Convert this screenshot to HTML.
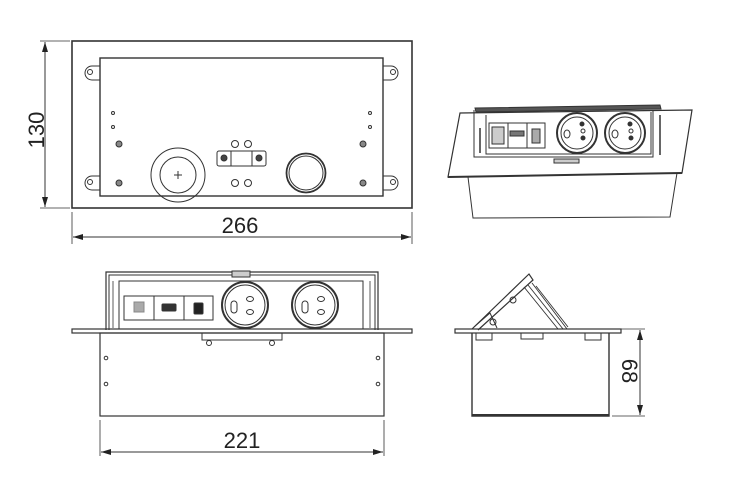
<!DOCTYPE html>
<html><head><meta charset="utf-8"><style>
html,body{margin:0;padding:0;background:#fff;width:735px;height:480px;overflow:hidden}
svg{display:block}
text{font-family:"Liberation Sans",sans-serif;fill:#222;stroke:none}
</style></head><body>
<svg width="735" height="480" viewBox="0 0 735 480" xmlns="http://www.w3.org/2000/svg" fill="none" stroke="#333" stroke-width="1">
<defs>
<marker id="ar" markerWidth="10" markerHeight="6" refX="10" refY="3" orient="auto-start-reverse" markerUnits="userSpaceOnUse"><path d="M0,0 L10,3 L0,6 z" fill="#222" stroke="none"/></marker>
</defs>
<!-- TOP VIEW -->
<rect x="72" y="41" width="340" height="167" stroke-width="1.6"/>
<rect x="100" y="58" width="283" height="138" stroke-width="1.4"/>
<g stroke-width="1">
<path d="M100,66 H92 a7,7 0 0 0 0,14 H100"/><circle cx="90" cy="72" r="2.5"/>
<path d="M100,176 H92 a7,7 0 0 0 0,14 H100"/><circle cx="90" cy="182" r="2.5"/>
<path d="M383,66 H391 a7,7 0 0 1 0,14 H383"/><circle cx="393" cy="72" r="2.5"/>
<path d="M383,176 H391 a7,7 0 0 1 0,14 H383"/><circle cx="393" cy="182" r="2.5"/>
<circle cx="113" cy="113" r="1.5"/><circle cx="113" cy="127" r="1.5"/>
<circle cx="370" cy="113" r="1.5"/><circle cx="370" cy="127" r="1.5"/>
<circle cx="119" cy="144" r="3" fill="#888"/><circle cx="119" cy="183" r="3" fill="#888"/>
<circle cx="363" cy="144" r="3" fill="#888"/><circle cx="363" cy="183" r="3" fill="#888"/>
<circle cx="178" cy="175" r="27"/><circle cx="178" cy="175" r="18"/>
<path d="M174,175 h8 M178,171 v8"/>
<rect x="217" y="151" width="49" height="15" rx="2"/><path d="M231,151 v15 M252,151 v15"/>
<circle cx="224" cy="158" r="3" fill="#444"/><circle cx="259" cy="158" r="3" fill="#444"/>
<circle cx="235" cy="144" r="3.5"/><circle cx="248" cy="144" r="3.5"/>
<circle cx="235" cy="183" r="3.5"/><circle cx="248" cy="183" r="3.5"/>
<circle cx="306" cy="173" r="19.5" stroke-width="1.8"/><circle cx="306" cy="173" r="17"/>
</g>
<!-- dims top -->
<path d="M40,41 H70 M40,208 H70 M72,212 V244 M412,212 V244" stroke-width="0.8"/>
<line x1="45" y1="42" x2="45" y2="207" marker-start="url(#ar)" marker-end="url(#ar)"/>
<line x1="73" y1="237" x2="411" y2="237" marker-start="url(#ar)" marker-end="url(#ar)"/>
<text x="240" y="233" font-size="22" text-anchor="middle">266</text>
<text transform="translate(44,130) rotate(-90)" font-size="22" text-anchor="middle">130</text>

<!-- FRONT VIEW -->
<path d="M106,330 V272 H378 V330" stroke-width="1.2"/>
<path d="M109,330 V275 H375 V330"/>
<rect x="119" y="281" width="244" height="48"/>
<rect x="232" y="271" width="18" height="6" fill="#ccc"/>
<path d="M113,281 V328 M370,281 V328" stroke-width="0.8"/>
<rect x="124" y="296" width="89" height="24"/><path d="M154,296 v24 M184,296 v24"/>
<rect x="134" y="302" width="10" height="10" fill="#aaa" stroke="#888"/>
<rect x="162" y="304" width="14" height="7" rx="1" fill="#333"/>
<rect x="194" y="303" width="9" height="11" rx="1" fill="#222"/>
<g>
<circle cx="245" cy="305" r="23" stroke-width="2"/><circle cx="245" cy="305" r="20"/>
<rect x="231" y="301" width="6" height="12" rx="3"/><ellipse cx="250" cy="299" rx="3.5" ry="2.5"/><ellipse cx="250" cy="312" rx="3.5" ry="2.5"/>
<circle cx="315" cy="305" r="23" stroke-width="2"/><circle cx="315" cy="305" r="20"/>
<rect x="302" y="301" width="6" height="12" rx="3"/><ellipse cx="321" cy="299" rx="3.5" ry="2.5"/><ellipse cx="321" cy="312" rx="3.5" ry="2.5"/>
</g>
<rect x="72" y="329" width="340" height="4" stroke-width="1.2"/>
<rect x="100" y="333" width="284" height="83" stroke-width="1.2"/>
<rect x="202" y="333" width="80" height="7"/>
<circle cx="209" cy="343" r="2.5"/><circle cx="272" cy="343" r="2.5"/>
<circle cx="106" cy="358" r="1.8"/><circle cx="106" cy="384" r="1.8"/>
<circle cx="378" cy="358" r="1.8"/><circle cx="378" cy="384" r="1.8"/>
<path d="M100,420 V456 M384,420 V456" stroke-width="0.8"/>
<line x1="101" y1="452" x2="383" y2="452" marker-start="url(#ar)" marker-end="url(#ar)"/>
<text x="242" y="448" font-size="22" text-anchor="middle">221</text>

<!-- ISO VIEW -->
<path d="M460,113 L692,110 L682,173 L448,177 Z" stroke-width="1.2"/>
<path d="M448,177 L682,173" stroke-width="2"/>
<path d="M468,177 L473,218 L670,217 L677,173" />
<path d="M475,108 L660,105 L661,109 L476,112 Z" fill="#555"/>
<path d="M474,110 V157 H653 V110"/>
<path d="M486,115 V154 H651 V112"/>
<rect x="489" y="123" width="56" height="25"/><path d="M508,123 v25 M527,123 v25"/>
<rect x="492" y="127" width="12" height="17" fill="#ccc"/>
<rect x="510" y="131" width="14" height="5" fill="#777"/>
<rect x="532" y="129" width="8" height="14" fill="#aaa"/>
<circle cx="577" cy="133" r="20" stroke-width="2"/><circle cx="577" cy="133" r="16"/>
<circle cx="582" cy="124" r="2" fill="#333"/><circle cx="583" cy="131" r="2"/><circle cx="583" cy="138" r="2" fill="#333"/>
<ellipse cx="567" cy="134" rx="3" ry="4"/>
<circle cx="625" cy="133" r="20" stroke-width="2"/><circle cx="625" cy="133" r="16"/>
<circle cx="630" cy="124" r="2" fill="#333"/><circle cx="631" cy="131" r="2"/><circle cx="631" cy="138" r="2" fill="#333"/>
<ellipse cx="615" cy="134" rx="3" ry="4"/>
<rect x="554" y="159" width="25" height="4" fill="#ccc"/>
<path d="M480,128 v25 M660,115 v40" stroke-width="1.5"/>

<!-- SIDE VIEW -->
<rect x="455" y="329" width="166" height="4" stroke-width="1.2"/>
<path d="M472,333 V416 H609 V333" stroke-width="1.4"/>
<path d="M472,415 H609" stroke-width="2"/>
<path d="M472,329 L529,274 L533,280 L478,330" stroke-width="1.2"/>
<path d="M474,327 L490,313 L497,328"/>
<circle cx="493" cy="322" r="3"/><circle cx="513" cy="300" r="3"/>
<path d="M524,287 L558,329 M528,285 L563,329 M532,283 L567,329 M536,286 L568,327" stroke-width="0.9"/>
<rect x="476" y="333" width="16" height="7"/><rect x="521" y="333" width="22" height="6"/><rect x="585" y="333" width="16" height="7"/>
<path d="M612,329 H645 M612,416 H645" stroke-width="0.8"/>
<line x1="640" y1="330" x2="640" y2="415" marker-start="url(#ar)" marker-end="url(#ar)"/>
<text transform="translate(622,371) rotate(90)" font-size="22" text-anchor="middle">68</text>
</svg>
</body></html>
